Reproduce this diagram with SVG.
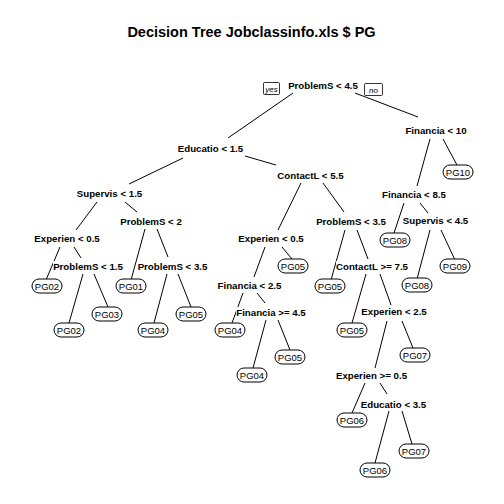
<svg xmlns="http://www.w3.org/2000/svg" width="504" height="504" viewBox="0 0 504 504">
<style>
.title{font-family:"Liberation Sans",Arial,sans-serif;font-size:14.5px;font-weight:bold;text-anchor:middle;fill:#000}
.split{font-family:"Liberation Sans",Arial,sans-serif;font-size:9.7px;font-weight:bold;text-anchor:middle;fill:#000}
.leaf{font-family:"Liberation Sans",Arial,sans-serif;font-size:9.5px;text-anchor:middle;fill:#000}
.yn{font-family:"Liberation Sans",Arial,sans-serif;font-size:8px;font-style:italic;text-anchor:middle;fill:#000}
.bg{fill:#fff;stroke:none}
.box{fill:#fff;stroke:#000;stroke-width:1}
.ynbox{fill:#fff;stroke:#000;stroke-width:0.8}
#edges line{stroke:#000;stroke-width:1;fill:none}
</style>
<rect width="504" height="504" fill="#fff"/>
<text class="title" x="251.5" y="37">Decision Tree Jobclassinfo.xls $ PG</text>
<g id="edges">
<line x1="293" y1="93" x2="228" y2="138"/>
<line x1="355" y1="93" x2="418" y2="117"/>
<line x1="430" y1="139" x2="417" y2="186"/>
<line x1="443" y1="139" x2="457" y2="165"/>
<line x1="183" y1="158" x2="129" y2="184"/>
<line x1="245" y1="156" x2="276" y2="165"/>
<line x1="301" y1="183" x2="278" y2="230"/>
<line x1="323" y1="183" x2="344" y2="212"/>
<line x1="265" y1="247" x2="254" y2="277"/>
<line x1="282" y1="247" x2="292" y2="259"/>
<line x1="243" y1="293" x2="232" y2="323"/>
<line x1="257" y1="293" x2="265" y2="303"/>
<line x1="266" y1="320" x2="253" y2="368"/>
<line x1="278" y1="320" x2="290" y2="350"/>
<line x1="345" y1="230" x2="331" y2="280"/>
<line x1="357" y1="230" x2="368" y2="259"/>
<line x1="366" y1="274" x2="352" y2="323"/>
<line x1="380" y1="274" x2="391" y2="305"/>
<line x1="387" y1="321" x2="375" y2="368"/>
<line x1="402" y1="321" x2="413" y2="348"/>
<line x1="365" y1="383" x2="352" y2="413"/>
<line x1="380" y1="383" x2="387" y2="394"/>
<line x1="389" y1="411" x2="375" y2="463"/>
<line x1="402" y1="411" x2="412" y2="444"/>
<line x1="404" y1="203" x2="394" y2="233"/>
<line x1="420" y1="203" x2="428" y2="213"/>
<line x1="430" y1="230" x2="417" y2="279"/>
<line x1="441" y1="230" x2="455" y2="260"/>
<line x1="97" y1="202" x2="76" y2="230"/>
<line x1="125" y1="202" x2="137" y2="212"/>
<line x1="145" y1="229" x2="131" y2="280"/>
<line x1="157" y1="229" x2="168" y2="257"/>
<line x1="60" y1="247" x2="46" y2="280"/>
<line x1="74" y1="247" x2="81" y2="258"/>
<line x1="83" y1="274" x2="69" y2="323"/>
<line x1="94" y1="274" x2="108" y2="307"/>
<line x1="167" y1="274" x2="154" y2="323"/>
<line x1="178" y1="274" x2="191" y2="307"/>
</g>
<g id="n_root"><rect class="bg" x="288" y="80" width="70" height="12"/><text class="split" x="323" y="89">ProblemS &lt; 4.5</text>
<rect class="ynbox" x="263.5" y="82.5" width="16" height="12" rx="1"/><text class="yn" x="271.5" y="91.5">yes</text>
<rect class="ynbox" x="364.5" y="83.5" width="18" height="12" rx="1"/><text class="yn" x="373.5" y="92.5">no</text></g>
<g id="n_fin10"><rect class="bg" x="406" y="125" width="60" height="12"/><text class="split" x="436" y="134">Financia &lt; 10</text></g>
<g id="n_edu15"><rect class="bg" x="177" y="143" width="67" height="12"/><text class="split" x="210.5" y="152">Educatio &lt; 1.5</text></g>
<g id="n_con55"><rect class="bg" x="277" y="170" width="67" height="12"/><text class="split" x="310.5" y="179">ContactL &lt; 5.5</text></g>
<g id="n_sup15"><rect class="bg" x="77" y="188" width="65" height="12"/><text class="split" x="109.5" y="197">Supervis &lt; 1.5</text></g>
<g id="n_fin85"><rect class="bg" x="382" y="189" width="64" height="12"/><text class="split" x="414" y="198">Financia &lt; 8.5</text></g>
<g id="n_prob2"><rect class="bg" x="120" y="216" width="62" height="12"/><text class="split" x="151" y="225">ProblemS &lt; 2</text></g>
<g id="n_prob35r"><rect class="bg" x="316" y="216" width="70" height="12"/><text class="split" x="351" y="225">ProblemS &lt; 3.5</text></g>
<g id="n_sup45"><rect class="bg" x="403" y="215" width="65" height="12"/><text class="split" x="435.5" y="224">Supervis &lt; 4.5</text></g>
<g id="n_exp05l"><rect class="bg" x="34" y="233" width="66" height="12"/><text class="split" x="67" y="242">Experien &lt; 0.5</text></g>
<g id="n_exp05m"><rect class="bg" x="238" y="233" width="66" height="12"/><text class="split" x="271" y="242">Experien &lt; 0.5</text></g>
<g id="n_prob15"><rect class="bg" x="53" y="261" width="70" height="12"/><text class="split" x="88" y="270">ProblemS &lt; 1.5</text></g>
<g id="n_prob35l"><rect class="bg" x="137" y="261" width="71" height="12"/><text class="split" x="172.5" y="270">ProblemS &lt; 3.5</text></g>
<g id="n_con75"><rect class="bg" x="336" y="261" width="72" height="12"/><text class="split" x="372" y="270">ContactL &gt;= 7.5</text></g>
<g id="n_fin25"><rect class="bg" x="217" y="280" width="65" height="12"/><text class="split" x="249.5" y="289">Financia &lt; 2.5</text></g>
<g id="n_exp25"><rect class="bg" x="361" y="306" width="66" height="12"/><text class="split" x="394" y="315">Experien &lt; 2.5</text></g>
<g id="n_fin45"><rect class="bg" x="236" y="307" width="70" height="12"/><text class="split" x="271" y="316">Financia &gt;= 4.5</text></g>
<g id="n_exp05b"><rect class="bg" x="336" y="370" width="71" height="12"/><text class="split" x="371.5" y="379">Experien &gt;= 0.5</text></g>
<g id="n_edu35"><rect class="bg" x="361" y="399" width="65" height="12"/><text class="split" x="393.5" y="408">Educatio &lt; 3.5</text></g>
<g id="l1"><rect class="box" x="443" y="165" width="30" height="14" rx="7"/><text class="leaf" x="458" y="175.5">PG10</text></g>
<g id="l2"><rect class="box" x="380" y="233" width="30" height="14" rx="7"/><text class="leaf" x="395" y="243.5">PG08</text></g>
<g id="l3"><rect class="box" x="440" y="259" width="30" height="14" rx="7"/><text class="leaf" x="455" y="269.5">PG09</text></g>
<g id="l4"><rect class="box" x="402" y="278" width="30" height="14" rx="7"/><text class="leaf" x="417" y="288.5">PG08</text></g>
<g id="l5"><rect class="box" x="278" y="259" width="30" height="14" rx="7"/><text class="leaf" x="293" y="269.5">PG05</text></g>
<g id="l6"><rect class="box" x="315" y="279" width="30" height="14" rx="7"/><text class="leaf" x="330" y="289.5">PG05</text></g>
<g id="l7"><rect class="box" x="215" y="323" width="30" height="14" rx="7"/><text class="leaf" x="230" y="333.5">PG04</text></g>
<g id="l8"><rect class="box" x="275" y="350" width="30" height="14" rx="7"/><text class="leaf" x="290" y="360.5">PG05</text></g>
<g id="l9"><rect class="box" x="237" y="368" width="30" height="14" rx="7"/><text class="leaf" x="252" y="378.5">PG04</text></g>
<g id="l10"><rect class="box" x="337" y="323" width="30" height="14" rx="7"/><text class="leaf" x="352" y="333.5">PG05</text></g>
<g id="l11"><rect class="box" x="400" y="348" width="30" height="14" rx="7"/><text class="leaf" x="415" y="358.5">PG07</text></g>
<g id="l12"><rect class="box" x="337" y="413" width="30" height="14" rx="7"/><text class="leaf" x="352" y="423.5">PG06</text></g>
<g id="l13"><rect class="box" x="399" y="444" width="30" height="14" rx="7"/><text class="leaf" x="414" y="454.5">PG07</text></g>
<g id="l14"><rect class="box" x="360" y="463" width="30" height="14" rx="7"/><text class="leaf" x="375" y="473.5">PG06</text></g>
<g id="l15"><rect class="box" x="32" y="279" width="30" height="14" rx="7"/><text class="leaf" x="47" y="289.5">PG02</text></g>
<g id="l16"><rect class="box" x="92" y="307" width="30" height="14" rx="7"/><text class="leaf" x="107" y="317.5">PG03</text></g>
<g id="l17"><rect class="box" x="54" y="323" width="30" height="14" rx="7"/><text class="leaf" x="69" y="333.5">PG02</text></g>
<g id="l18"><rect class="box" x="116" y="279" width="30" height="14" rx="7"/><text class="leaf" x="131" y="289.5">PG01</text></g>
<g id="l19"><rect class="box" x="176" y="307" width="30" height="14" rx="7"/><text class="leaf" x="191" y="317.5">PG05</text></g>
<g id="l20"><rect class="box" x="138" y="323" width="30" height="14" rx="7"/><text class="leaf" x="153" y="333.5">PG04</text></g>
</svg>
